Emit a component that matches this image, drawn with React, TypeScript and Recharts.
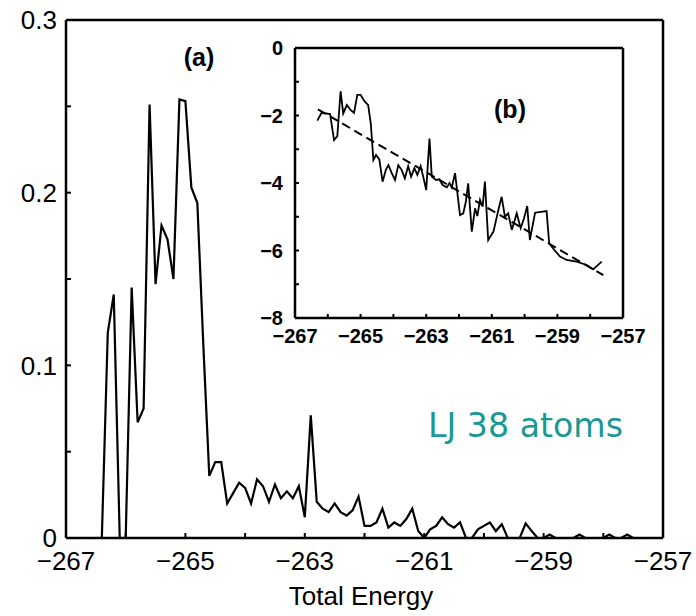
import { LineChart, Line, XAxis, YAxis } from "recharts";

// main histogram: probability vs total energy (LJ38)
const mainEnergy = [
  -266.4, -266.3, -266.2, -266.1, -266.0, -265.9, -265.8, -265.7, -265.6, -265.5,
  -265.4, -265.3, -265.2, -265.1, -265.0, -264.9, -264.8, -264.7, -264.6, -264.5,
  -264.4, -264.3, -264.2, -264.1, -264.0, -263.9, -263.8, -263.7, -263.6, -263.5,
  -263.4, -263.3, -263.2, -263.1, -263.0, -262.9, -262.8, -262.7, -262.6, -262.5,
  -262.4, -262.3, -262.2, -262.1, -262.0, -261.9, -261.8, -261.7, -261.6, -261.5,
  -261.4, -261.3, -261.2, -261.1, -261.0, -260.9, -260.8, -260.7, -260.6, -260.5,
  -260.4, -260.3, -260.2, -260.1, -260.0, -259.9, -259.8, -259.7, -259.6, -259.5,
  -259.4, -259.3, -259.2, -259.1, -259.0, -258.9, -258.8, -258.7, -258.6, -258.5,
  -258.4, -258.3, -258.2, -258.1, -258.0, -257.9, -257.8, -257.7, -257.6, -257.5,
];
const mainProb = [
  0, 0.119, 0.141, 0, 0, 0.145, 0.067, 0.075, 0.251, 0.147,
  0.181, 0.173, 0.15, 0.254, 0.253, 0.203, 0.194, 0.112, 0.036, 0.044,
  0.044, 0.02, 0.026, 0.032, 0.029, 0.02, 0.034, 0.03, 0.021, 0.031,
  0.023, 0.027, 0.023, 0.03, 0.012, 0.071, 0.021, 0.017, 0.015, 0.02,
  0.015, 0.013, 0.016, 0.024, 0.007, 0.007, 0.009, 0.017, 0.006, 0.009,
  0.007, 0.011, 0.017, 0.004, 0, 0.005, 0.007, 0.012, 0.008, 0.006,
  0.009, 0, 0, 0.005, 0.007, 0.009, 0.004, 0.008, 0, 0,
  0, 0.0085, 0.004, 0, 0, 0.002, 0, 0, 0, 0,
  0.002, 0, 0, 0, 0, 0.002, 0, 0, 0.002, 0,
];

// inset (b): log of the histogram, with a straight fit
const insetEnergy = [
  -266.32, -266.19, -265.93, -265.81, -265.71, -265.61, -265.53, -265.42, -265.3, -265.2,
  -265.1, -265.0, -264.87, -264.77, -264.69, -264.61, -264.53, -264.43, -264.33, -264.23,
  -264.15, -264.05, -263.95, -263.85, -263.75, -263.65, -263.55, -263.46, -263.36, -263.27,
  -263.17, -263.08, -263.0, -262.9, -262.83, -262.7, -262.6, -262.5, -262.37, -262.29,
  -262.22, -262.12, -261.97, -261.87, -261.79, -261.72, -261.61, -261.51, -261.44, -261.36,
  -261.28, -261.21, -261.11, -260.95, -260.8, -260.7, -260.6, -260.5, -260.39, -260.24,
  -260.12, -260.02, -259.92, -259.84, -259.68, -259.33, -259.25, -259.13, -258.92, -258.72,
  -258.41, -258.11, -257.91, -257.65,
];
const insetLogProb = [
  -2.15, -1.92, -1.96, -2.73, -2.61, -1.28, -1.94, -1.69, -1.84, -1.92,
  -1.39, -1.39, -1.59, -1.69, -2.23, -3.32, -3.17, -3.3, -3.96, -3.61,
  -3.47, -3.71, -3.91, -3.47, -3.61, -3.86, -3.5, -3.81, -3.56, -3.76,
  -3.5, -3.86, -4.21, -2.68, -3.81, -3.91, -3.89, -4.06, -4.13, -4.0,
  -4.13, -3.71, -4.95, -4.9, -4.55, -4.01, -5.44, -4.75, -4.98, -4.5,
  -4.7, -3.96, -5.69, -5.44, -4.8, -4.41, -5.0, -4.9, -5.39, -4.9,
  -5.34, -5.05, -4.68, -5.69, -4.88, -4.83, -5.79, -5.94, -6.18, -6.28,
  -6.33, -6.43, -6.56, -6.33,
];
const fitEnergy = [-266.3, -257.6];
const fitLogProb = [-1.82, -6.73];

const energyTicks = [-267, -266, -265, -264, -263, -262, -261, -260, -259, -258, -257];
const probTicks = [0, 0.05, 0.1, 0.15, 0.2, 0.25, 0.3];
const logTicks = [-8, -7, -6, -5, -4, -3, -2, -1, 0];

const FONT = "'Liberation Sans', Arial, Helvetica, sans-serif";

const signed = (v: number) => (v < 0 ? `\u2212${Math.abs(v)}` : String(v));
const oddOnly = (v: number) => (Math.abs(Math.round(v)) % 2 === 1 ? signed(v) : "");
const evenOnly = (v: number) => (Math.round(v) % 2 === 0 ? signed(v) : "");
const tenths = (v: number) => {
  const h = Math.round(v * 100);
  return h % 10 === 0 ? String(h / 100) : "";
};

const frame = { stroke: "#000", strokeWidth: 2.5 };
const tickStroke = { stroke: "#000", strokeWidth: 2 };

// axes get a 1px box (a 0px box is not drawn), so margins are 1px less
export default function App() {
  const mainData = mainEnergy.map((e, i) => ({ energy: e, prob: mainProb[i] }));
  const insetData = insetEnergy.map((e, i) => ({ energy: e, lnp: insetLogProb[i] }));
  const fitData = fitEnergy.map((e, i) => ({ energy: e, lnp: fitLogProb[i] }));

  return (
    <div style={{ position: "absolute", left: 0, top: 0, width: 696, height: 616, background: "#fff" }}>
      <div style={{ position: "absolute", left: 0, top: 0 }}>
        <LineChart width={696} height={616} data={mainData} margin={{ top: 19, right: 32, bottom: 77, left: 65 }}>
          <XAxis
            dataKey="energy" type="number" domain={[-267, -257]} allowDataOverflow
            ticks={energyTicks} interval={0} tickFormatter={oddOnly}
            height={1} tickSize={-5} tickMargin={19}
            axisLine={frame} tickLine={tickStroke}
            tick={{ fontSize: 26, fill: "#000", fontFamily: FONT }}
          />
          <XAxis
            xAxisId="top" orientation="top" type="number" domain={[-267, -257]} allowDataOverflow
            ticks={energyTicks} interval={0} tick={false} height={1} tickSize={-5}
            axisLine={frame} tickLine={tickStroke}
          />
          <YAxis
            type="number" domain={[0, 0.3]} allowDataOverflow
            ticks={probTicks} interval={0} tickFormatter={tenths}
            width={1} tickSize={-5} tickMargin={14}
            axisLine={frame} tickLine={tickStroke}
            tick={{ fontSize: 26, fill: "#000", fontFamily: FONT }}
          />
          <YAxis
            yAxisId="right" orientation="right" type="number" domain={[0, 0.3]} allowDataOverflow
            ticks={probTicks} interval={0} tick={false} width={1} tickSize={-5}
            axisLine={frame} tickLine={tickStroke}
          />
          <Line dataKey="prob" type="linear" stroke="#000" strokeWidth={2.2} dot={false} isAnimationActive={false} />
        </LineChart>
      </div>

      <div style={{ position: "absolute", left: 240, top: 30 }}>
        <LineChart width={420} height={330} margin={{ top: 17, right: 36, bottom: 41, left: 54 }}>
          <XAxis
            dataKey="energy" type="number" domain={[-267, -257]} allowDataOverflow
            ticks={energyTicks} interval={0} tickFormatter={oddOnly}
            height={1} tickSize={-4} tickMargin={15}
            axisLine={frame} tickLine={tickStroke}
            tick={{ fontSize: 20, fill: "#000", fontFamily: FONT, fontWeight: 700 }}
          />
          <XAxis
            xAxisId="top" orientation="top" type="number" domain={[-267, -257]} allowDataOverflow
            ticks={energyTicks} interval={0} tick={false} height={1} tickSize={-4}
            axisLine={frame} tickLine={tickStroke}
          />
          <YAxis
            type="number" domain={[-8, 0]} allowDataOverflow
            ticks={logTicks} interval={0} tickFormatter={evenOnly}
            width={1} tickSize={-4} tickMargin={16}
            axisLine={frame} tickLine={tickStroke}
            tick={{ fontSize: 20, fill: "#000", fontFamily: FONT, fontWeight: 700 }}
          />
          <YAxis
            yAxisId="right" orientation="right" type="number" domain={[-8, 0]} allowDataOverflow
            ticks={logTicks} interval={0} tick={false} width={1} tickSize={-4}
            axisLine={frame} tickLine={tickStroke}
          />
          <Line data={fitData} dataKey="lnp" type="linear" stroke="#000" strokeWidth={2} strokeDasharray="9 5" dot={false} isAnimationActive={false} />
          <Line data={insetData} dataKey="lnp" type="linear" stroke="#000" strokeWidth={1.8} dot={false} isAnimationActive={false} />
        </LineChart>
      </div>

      <svg width={696} height={616} style={{ position: "absolute", left: 0, top: 0, pointerEvents: "none" }}>
        <text x={199} y={66} textAnchor="middle" fontFamily={FONT} fontWeight={700} fontSize={25}>(a)</text>
        <text x={510} y={118} textAnchor="middle" fontFamily={FONT} fontWeight={700} fontSize={25}>(b)</text>
        <text x={361} y={605} textAnchor="middle" fontFamily={FONT} fontSize={26}>Total Energy</text>
        <text x={428} y={437} fontFamily="'DejaVu Sans', sans-serif" fontSize={34} fill="#1a9994" textLength={195} lengthAdjust="spacingAndGlyphs">LJ 38 atoms</text>
      </svg>
    </div>
  );
}
